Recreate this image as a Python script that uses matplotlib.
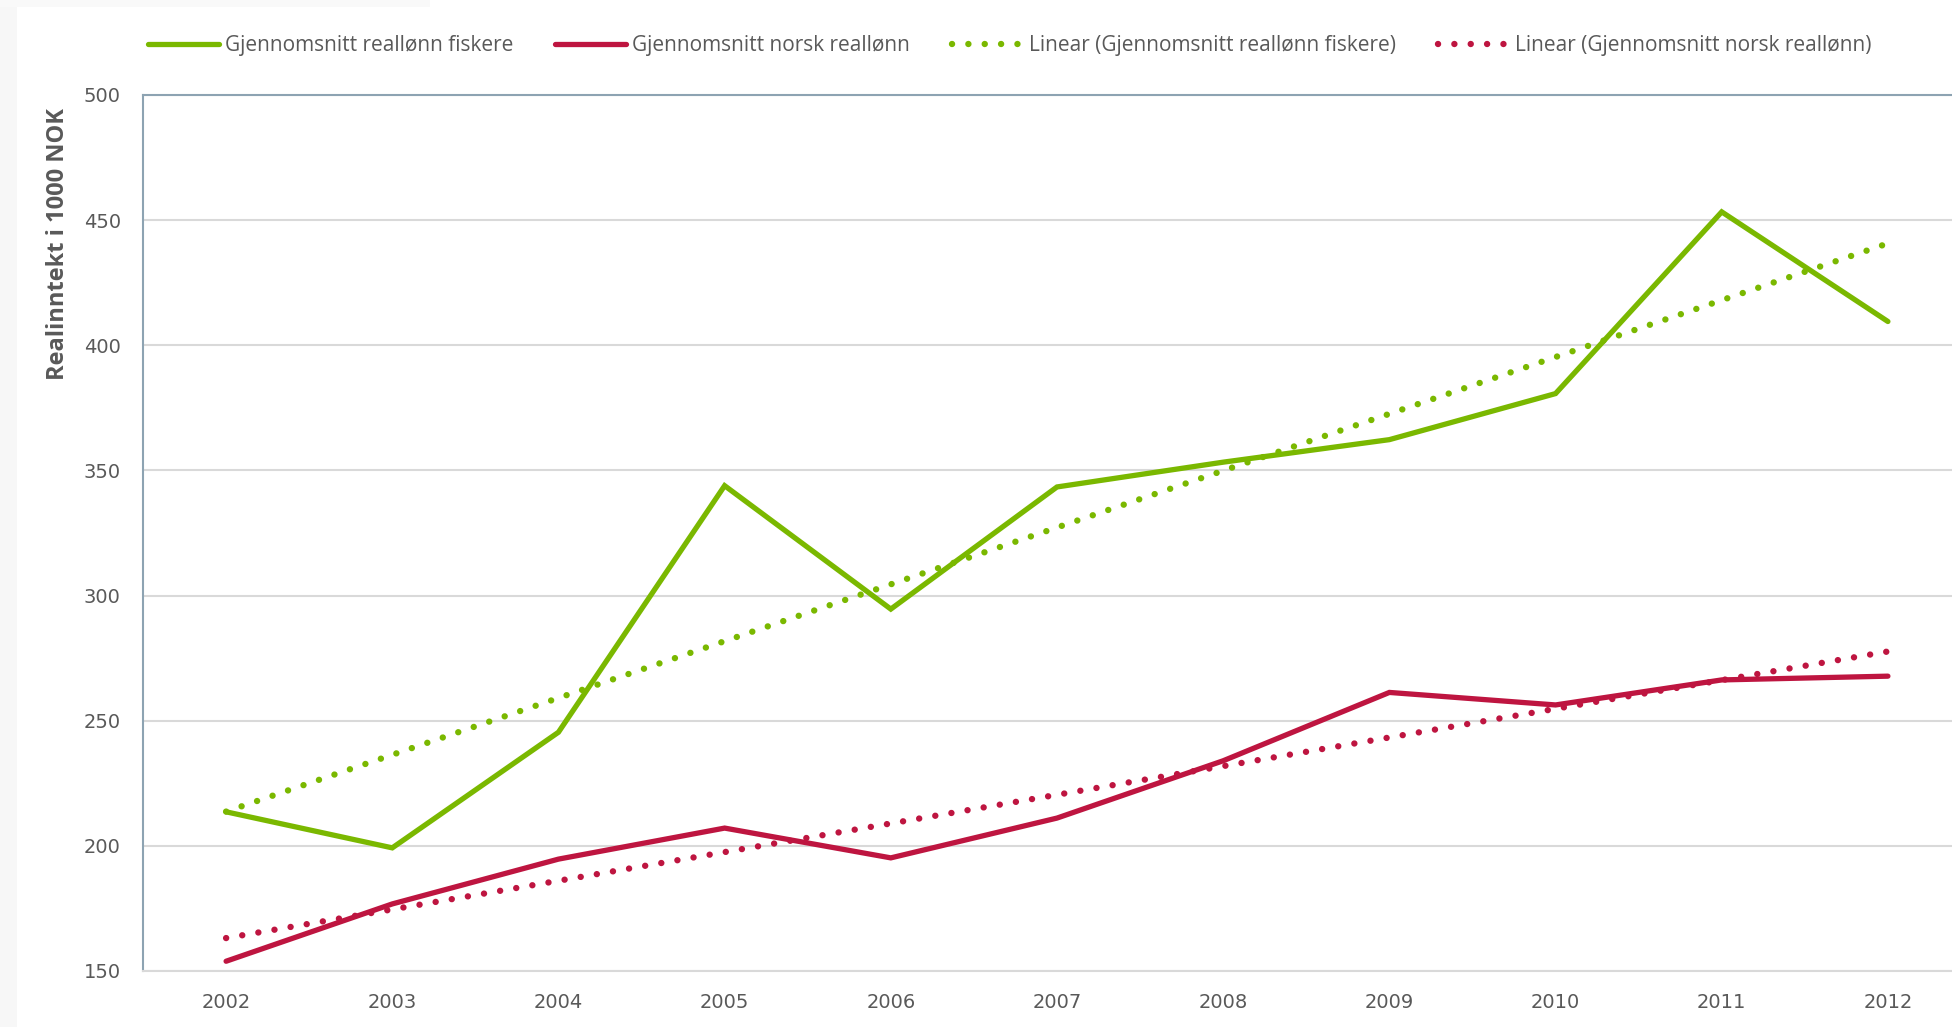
import numpy as np
import matplotlib.pyplot as plt
from matplotlib.patches import Rectangle

# Data (lest av figuren)
years = ['2002', '2003', '2004', '2005', '2006', '2007', '2008', '2009', '2010', '2011', '2012']
fiskere = [213.6, 199.2, 245.4, 343.9, 294.6, 343.4, 353.3, 362.3, 380.7, 453.3, 409.5]
norsk = [153.9, 176.8, 194.7, 207.1, 195.2, 211.1, 234.0, 261.3, 256.3, 266.3, 267.8]
y_ticks = [150, 200, 250, 300, 350, 400, 450, 500]

green = '#7AB800'
red = '#BE1540'
text_col = '#595959'
spine_col = '#8DA3B2'
grid_col = '#D9D9D9'
narrow = ['Liberation Sans Narrow', 'Open Sans', 'DejaVu Sans']

x = np.arange(len(years))

# Lineær trendlinje (som Excel)
k_f, m_f = np.polyfit(x, fiskere, 1)
k_n, m_n = np.polyfit(x, norsk, 1)
trend_f = k_f * x + m_f
trend_n = k_n * x + m_n

fig = plt.figure(figsize=(19.52, 10.27), dpi=100)
fig.patches.append(Rectangle((0, 0), 17 / 1952, 1, transform=fig.transFigure,
                             facecolor='#F7F7F7', edgecolor='none', zorder=-5))
fig.patches.append(Rectangle((0, 1 - 7 / 1027), 430 / 1952, 7 / 1027, transform=fig.transFigure,
                             facecolor='#F9F9F9', edgecolor='none', zorder=-5))

ax = fig.add_axes([143 / 1952, 1 - 971 / 1027, (1971 - 143) / 1952, (971 - 95) / 1027])

lw = 3.8
ax.plot(x, fiskere, color=green, lw=lw, solid_capstyle='round', solid_joinstyle='miter',
        label='Gjennomsnitt reallønn fiskere', zorder=3)
ax.plot(x, norsk, color=red, lw=lw, solid_capstyle='round', solid_joinstyle='miter',
        label='Gjennomsnitt norsk reallønn', zorder=3)
ax.plot(x, trend_f, color=green, lw=4.6, linestyle=(0, (0.01, 2.55)), dash_capstyle='round',
        label='Linear (Gjennomsnitt reallønn fiskere)', zorder=2)
ax.plot(x, trend_n, color=red, lw=4.6, linestyle=(0, (0.01, 2.55)), dash_capstyle='round',
        label='Linear (Gjennomsnitt norsk reallønn)', zorder=2)

ax.set_xlim(-0.5, 10.5)
ax.set_ylim(150, 500)
ax.set_xticks(x)
ax.set_xticklabels(years)
ax.set_yticks(y_ticks)
ax.tick_params(length=0, labelsize=14, colors=text_col, pad=16)
for lab in ax.get_xticklabels() + ax.get_yticklabels():
    lab.set_color(text_col)

ax.grid(axis='y', color=grid_col, lw=1.5, zorder=0)
ax.set_axisbelow(True)
ax.spines['right'].set_visible(False)
ax.spines['bottom'].set_color(grid_col)
ax.spines['bottom'].set_linewidth(1.5)
ax.spines['left'].set_color(spine_col)
ax.spines['left'].set_linewidth(1.5)
ax.spines['top'].set_color(spine_col)
ax.spines['top'].set_linewidth(1.5)

fig.text(58 / 1952, 1 - 244 / 1027, 'Realinntekt i 1000 NOK', rotation=90, ha='center', va='center',
         fontsize=17, fontweight='bold', color=text_col, family=narrow)

fig.legend(loc='center left', bbox_to_anchor=(148 / 1952, 1 - 46 / 1027), ncol=4, frameon=False,
           prop={'family': narrow, 'size': 15}, labelcolor=text_col,
           handlelength=3.4, handletextpad=0.3, columnspacing=2.0, borderaxespad=0, borderpad=0)

fig.savefig('out.png', dpi=100)
